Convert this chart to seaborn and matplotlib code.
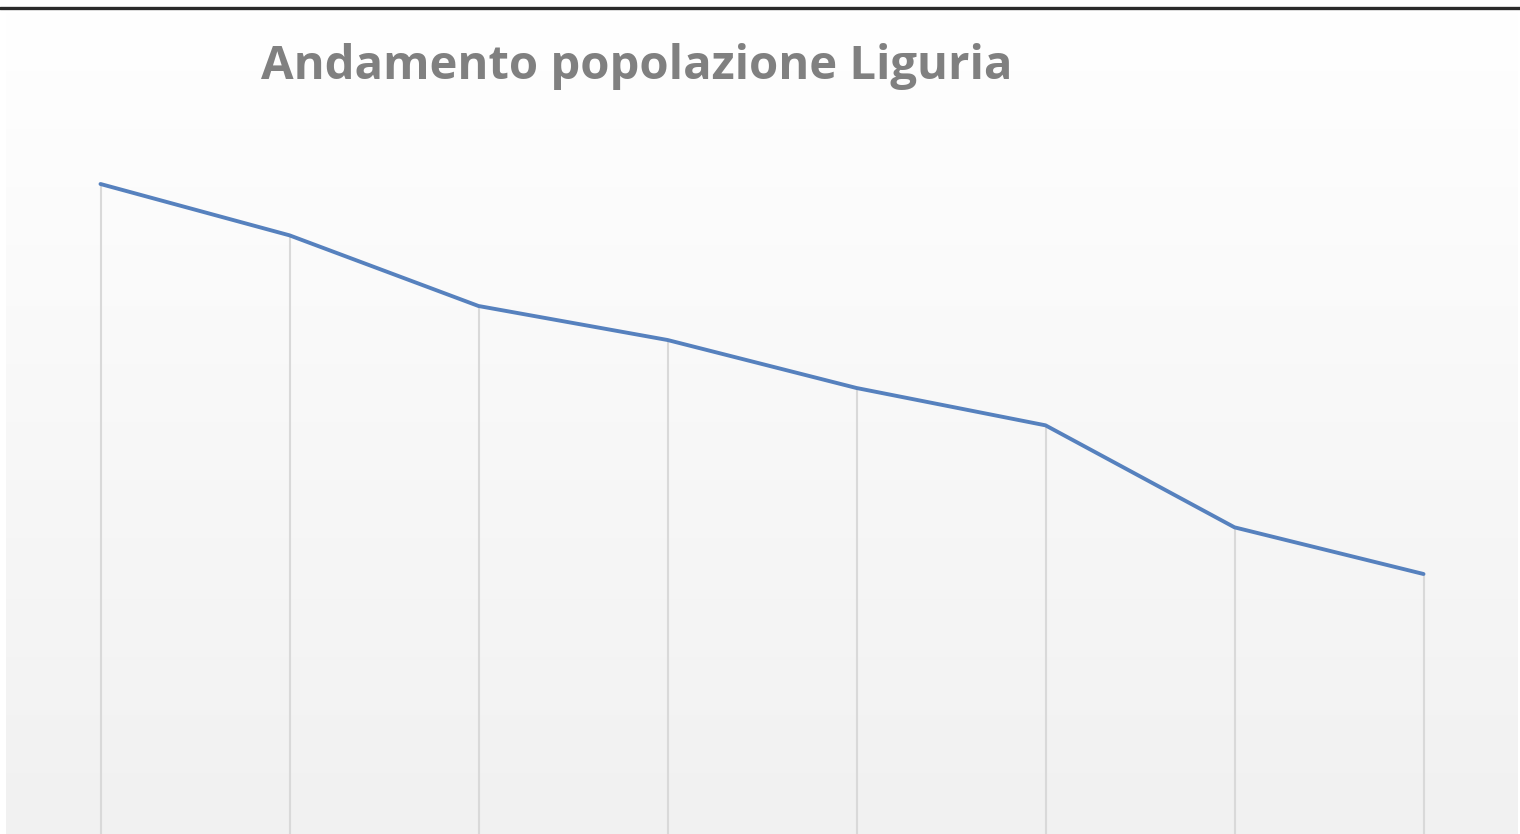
import matplotlib
matplotlib.use("Agg")
import matplotlib.pyplot as plt
from matplotlib.lines import Line2D
import seaborn as sns
import numpy as np
import pandas as pd

# Liguria population (approx.)
anni = ["2013", "2014", "2015", "2016", "2017", "2018", "2019", "2020"]
popolazione = [1591000, 1583300, 1572700, 1567600, 1560400, 1554800, 1539500, 1532500]

titolo = "Andamento popolazione Liguria"

df = pd.DataFrame({"anno": anni, "popolazione": popolazione})

sns.set_theme(style="white")
plt.rcParams["font.family"] = ["Open Sans", "DejaVu Sans"]

fig = plt.figure(figsize=(15.2, 8.34), dpi=100, facecolor="white")
ax = fig.add_axes([6 / 1520, 0, 1512 / 1520, 824 / 834])

y_top = 1617100
y_bottom = 1493500

# background gradient white -> light gray
grad = np.linspace(0, 1, 256).reshape(-1, 1)
cmap = matplotlib.colors.LinearSegmentedColormap.from_list("bg", ["#ffffff", "#f1f1f1"])
ax.imshow(grad, aspect="auto", cmap=cmap, extent=[0, 1, 0, 1],
          transform=ax.transAxes, zorder=0, origin="upper")

# drop lines
ax.vlines(range(len(anni)), y_bottom, df["popolazione"], color="#d9d9d9",
          linewidth=1.5, zorder=1)

sns.lineplot(data=df, x="anno", y="popolazione", ax=ax, color="#5681be",
             linewidth=2.8, sort=False, zorder=2)

ax.set_xlim(-0.5, len(anni) - 0.5)
ax.set_ylim(y_bottom, y_top)
ax.set_xticks([])
ax.set_yticks([])
ax.set_xlabel("")
ax.set_ylabel("")
for s in ax.spines.values():
    s.set_visible(False)

# top border
fig.add_artist(Line2D([0, 1], [1 - 7.5 / 834, 1 - 7.5 / 834], transform=fig.transFigure,
                      color="#2a2a2a", linewidth=2.4))

fig.text(637 / 1520, 1 - 66 / 834, titolo, ha="center", va="center",
         fontsize=34, fontweight="bold", color="#808080")

fig.savefig("out.png", dpi=100, facecolor="white")
